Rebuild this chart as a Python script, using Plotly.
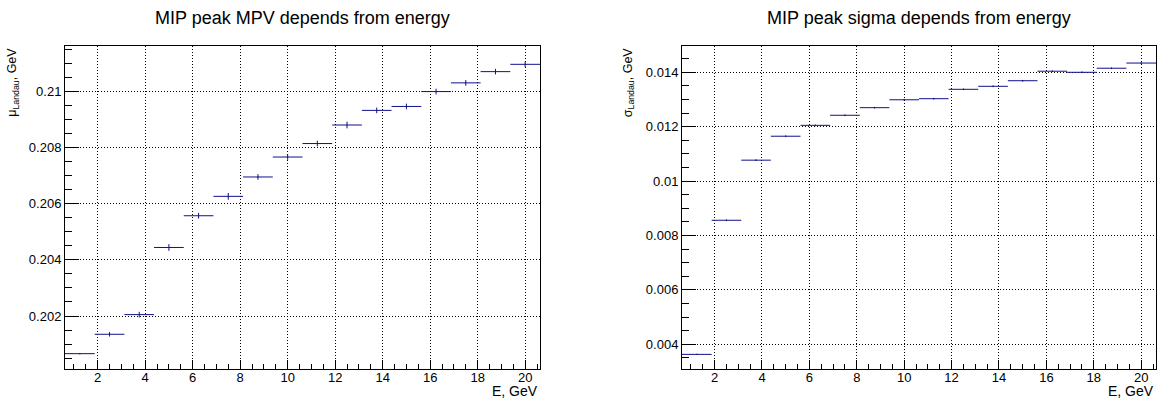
import plotly.graph_objects as go

# ---- data ----
energy = [1.25, 2.5, 3.75, 5.0, 6.25, 7.5, 8.75, 10.0,
          11.25, 12.5, 13.75, 15.0, 16.25, 17.5, 18.75, 20.0]
energy_err = [0.625, 0.625, 0.625, 0.625, 0.625, 0.625, 0.625, 0.625,
              0.625, 0.625, 0.625, 0.625, 0.625, 0.625, 0.625, 0.625]
mpv = [0.20066, 0.20135, 0.20205, 0.20444, 0.20557, 0.20626, 0.20695, 0.20766,
       0.20814, 0.20880, 0.20932, 0.20946, 0.20999, 0.21030, 0.21070, 0.21096]
mpv_err = [0.00002, 0.00008, 0.00010, 0.00012, 0.00010, 0.00012, 0.00010, 0.00010,
           0.00010, 0.00012, 0.00010, 0.00010, 0.00010, 0.00010, 0.00010, 0.00010]
sigma = [0.00363, 0.00856, 0.01077, 0.01165, 0.01205, 0.01242, 0.01270, 0.01299,
         0.01303, 0.013375, 0.013485, 0.01369, 0.01404, 0.01400, 0.01415, 0.01434]
sigma_err = [0.00002, 0.00003, 0.00003, 0.00003, 0.00003, 0.00003, 0.00003, 0.00003,
             0.00003, 0.00003, 0.00003, 0.00003, 0.00003, 0.00003, 0.00003, 0.00003]

titles = ["MIP peak MPV depends from energy", "MIP peak sigma depends from energy"]
ytitles = ["μ<sub>Landau</sub>, GeV", "σ<sub>Landau</sub>, GeV"]
xtitle = "E, GeV"

W, H = 1157, 401
FONT = "Liberation Sans, Arial, Helvetica, sans-serif"
COL = "#10108c"

x_dom = [[65 / W, 540 / W], [682 / W, 1156 / W]]
y_dom = [(H - 369) / H, (H - 45.7) / H]
y_ranges = [[0.200114, 0.211623], [0.003092, 0.014978]]
x_range = [0.625, 20.625]

fig = go.Figure()

for i, (yv, ye) in enumerate([(mpv, mpv_err), (sigma, sigma_err)]):
    sfx = "" if i == 0 else "2"
    fig.add_trace(go.Scatter(
        x=energy, y=yv, mode="markers",
        marker=dict(size=1, color=COL),
        error_x=dict(type="data", array=energy_err, color=COL, thickness=1, width=0),
        error_y=dict(type="data", array=ye, color=COL, thickness=1, width=0),
        xaxis="x" + sfx, yaxis="y" + sfx, showlegend=False, hoverinfo="skip",
    ))

axis_common = dict(
    showline=True, linecolor="black", linewidth=1, mirror=True,
    showgrid=True, gridcolor="black", gridwidth=1, griddash="1px,2px",
    zeroline=False, ticks="inside", tickcolor="black", tickwidth=1,
    tickfont=dict(family=FONT, size=13, color="black"),
)

layout = dict(
    width=W, height=H, margin=dict(l=0, r=0, t=0, b=0),
    paper_bgcolor="white", plot_bgcolor="white",
    font=dict(family=FONT, color="black"),
)

for i in range(2):
    sfx = "" if i == 0 else "2"
    layout["xaxis" + sfx] = dict(
        axis_common, domain=x_dom[i], range=x_range, anchor="y" + sfx,
        tick0=0, dtick=2, ticklen=9, ticklabelstandoff=-4,
        minor=dict(ticks="inside", ticklen=5, dtick=0.5, tickcolor="black", showgrid=False),
    )
    layout["yaxis" + sfx] = dict(
        axis_common, domain=y_dom, range=y_ranges[i], anchor="x" + sfx,
        tick0=0, dtick=0.002, ticklen=14,
        minor=dict(ticks="inside", ticklen=7, dtick=0.0005, tickcolor="black", showgrid=False),
    )

fig.update_layout(**layout)

annotations = []
ytitle_x = [13.5, 628.5]
for i in range(2):
    sfx = "" if i == 0 else "2"
    annotations.append(dict(
        text=titles[i], xref="x%s domain" % sfx, yref="paper",
        x=0.5, y=(H - 18) / H, xanchor="center", yanchor="middle",
        showarrow=False, font=dict(family=FONT, size=18, color="black"),
    ))
    annotations.append(dict(
        text=xtitle, xref="x%s domain" % sfx, yref="paper",
        x=1, y=0, xanchor="right", yanchor="bottom",
        showarrow=False, font=dict(family=FONT, size=14, color="black"),
    ))
    annotations.append(dict(
        text=ytitles[i], xref="paper", yref="y%s domain" % sfx,
        x=ytitle_x[i] / W, y=1.0, xanchor="center", yanchor="top", textangle=-90,
        showarrow=False, font=dict(family=FONT, size=12.5, color="black"),
    ))
fig.update_layout(annotations=annotations)

fig.write_html("out.html")
